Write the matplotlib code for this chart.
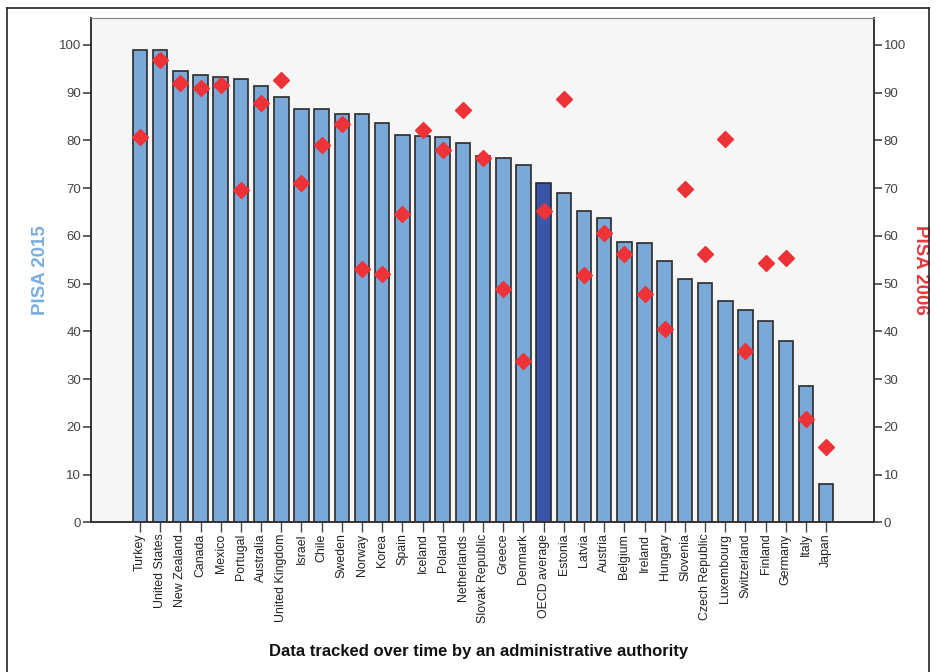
import matplotlib
matplotlib.use("Agg")
import matplotlib.pyplot as plt
from matplotlib.lines import Line2D

plt.rcParams.update({"font.family": ["Liberation Sans", "DejaVu Sans"]})

# -- data ---------------------------------------------------------------
paises = ["Turkey", "United States", "New Zealand", "Canada", "Mexico",
          "Portugal", "Australia", "United Kingdom", "Israel", "Chile",
          "Sweden", "Norway", "Korea", "Spain", "Iceland", "Poland",
          "Netherlands", "Slovak Republic", "Greece", "Denmark",
          "OECD average", "Estonia", "Latvia", "Austria", "Belgium",
          "Ireland", "Hungary", "Slovenia", "Czech Republic", "Luxembourg",
          "Switzerland", "Finland", "Germany", "Italy", "Japan"]

pisa2015 = [99.0, 98.8, 94.5, 93.6, 93.2, 92.8, 91.3, 89.1, 86.5, 86.5,
            85.6, 85.6, 83.7, 81.1, 80.8, 80.7, 79.4, 76.8, 76.4, 74.8,
            71.0, 69.0, 65.2, 63.7, 58.7, 58.4, 54.7, 51.0, 50.1, 46.3,
            44.5, 42.1, 38.0, 28.5, 8.1]

pisa2006 = [80.7, 96.8, 92.0, 90.9, 91.6, 69.5, 87.9, 92.6, 71.0, 79.0,
            83.5, 53.1, 52.0, 64.6, 82.2, 78.0, 86.3, 76.3, 48.9, 33.9,
            65.1, 88.6, 51.7, 60.6, 56.3, 47.8, 40.5, 69.8, 56.1, 80.2,
            35.8, 54.3, 55.4, 21.7, 15.8]

yticks = list(range(0, 101, 10))

AZUL = "#7aa9d9"
AZUL_ESC = "#3a55a8"
VERMELHO = "#ee3338"
CINZA = "#444444"

# -- figure -------------------------------------------------------------
fig = plt.figure(figsize=(9.36, 6.72), dpi=100)
fig.patch.set_facecolor("white")
ax = fig.add_axes([0.0972, 0.2225, 0.8366, 0.7507])
ax.set_facecolor("#f6f6f6")

x = list(range(len(paises)))
cores = [AZUL_ESC if p == "OECD average" else AZUL for p in paises]
ax.bar(x, pisa2015, width=0.72, color=cores, edgecolor="#2a2a2a",
       linewidth=1.2, zorder=2)

ax.set_xlim(-2.43, 36.37)
ax.set_ylim(0, 105.6)
ax.set_yticks(yticks)
ax.set_xticks(x)
ax.set_xticklabels(paises, rotation=90, fontsize=8.9, color="#222222")
ax.tick_params(axis="y", labelsize=9.5, labelcolor=CINZA, color=CINZA,
               length=6, width=1.2, pad=1)
ax.tick_params(axis="x", color=CINZA, length=7, width=1.0, pad=1)

ax2 = ax.twinx()
ax2.plot(x, pisa2006, linestyle="none", marker="D", markersize=8.5,
         color=VERMELHO, markeredgecolor=VERMELHO, zorder=3)
ax2.set_ylim(0, 105.6)
ax2.set_yticks(yticks)
ax2.tick_params(axis="y", labelsize=9.5, labelcolor=CINZA, color=CINZA,
                length=6, width=1.2, pad=1)

for a in (ax, ax2):
    for lado in ["left", "right", "bottom"]:
        a.spines[lado].set_color("#333333")
        a.spines[lado].set_linewidth(1.2)
    a.spines["top"].set_color("#888888")

ax.set_ylabel("PISA 2015", color="#7aaee0", fontsize=13.5, fontweight="bold",
              va="center")
ax.yaxis.set_label_coords(-0.065, 0.5)
ax2.set_ylabel("PISA 2006", color="#e8393c", fontsize=13.5, fontweight="bold",
               rotation=270, va="center")
ax2.yaxis.set_label_coords(1.059, 0.5)

fig.text(0.511, 0.031, "Data tracked over time by an administrative authority",
         ha="center", va="center", fontsize=12, fontweight="bold",
         family=["Liberation Sans Narrow", "Liberation Sans", "DejaVu Sans"],
         color="#111111")

# moldura externa
for xs, ys in [([0.0075, 0.0075], [0.0, 0.988]),
               ([0.0075, 0.993], [0.988, 0.988]),
               ([0.993, 0.993], [0.988, 0.0])]:
    fig.add_artist(Line2D(xs, ys, transform=fig.transFigure,
                          color="#222222", linewidth=1.2))

fig.savefig("out.png", dpi=100)
